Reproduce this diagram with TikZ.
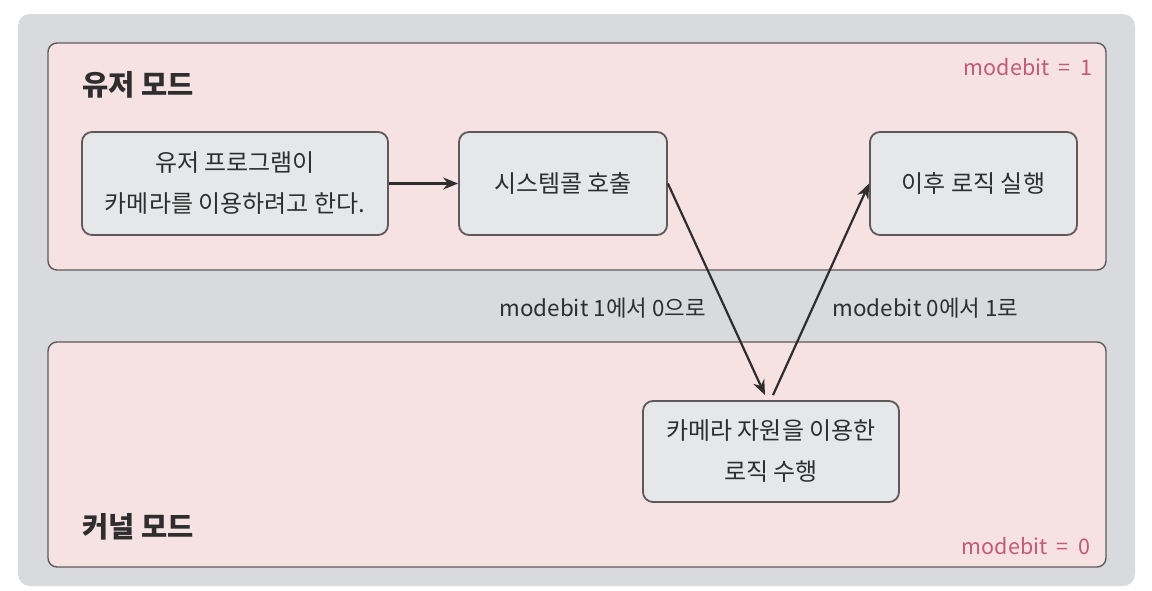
\documentclass[tikz,border=0pt]{standalone}
\usepackage{fontspec}
\setmainfont{Noto Sans CJK KR}
\usetikzlibrary{arrows.meta,calc}
\definecolor{bgGray}{HTML}{D9DADC}
\definecolor{zonePink}{HTML}{F6E1E3}
\definecolor{boxFill}{HTML}{E6E7E9}
\definecolor{lineDark}{HTML}{5E5A5B}
\definecolor{bitPink}{HTML}{C25A78}
\definecolor{textDark}{HTML}{2E2E2E}
\tikzset{
  zone/.style={draw=lineDark, line width=1.4pt, fill=zonePink, rounded corners=9pt},
  stepbox/.style={draw=lineDark, line width=1.8pt, fill=boxFill, rounded corners=10pt,
    align=center, text=textDark, font=\fontsize{24}{41}\selectfont, inner sep=0pt},
  zonetitle/.style={text=textDark, font=\bfseries\fontsize{28.5}{32}\selectfont, anchor=west},
  bitlabel/.style={text=bitPink, font=\fontsize{21.5}{24}\selectfont},
  midlabel/.style={text=textDark, font=\fontsize{22.4}{26}\selectfont},
  arr/.style={draw=textDark, line width=2.2pt, -{Stealth[length=15pt,width=12pt]}}
}
\begin{document}
\begin{tikzpicture}[x=1pt,y=-1pt]
\useasboundingbox (0,0) rectangle (1152,590);
\fill[white] (0,0) rectangle (1152,590);
\fill[bgGray, rounded corners=12pt] (18,14) rectangle (1135,586);
% zones
\path[zone] (48,43) rectangle (1106,270);
\path[zone] (48,342) rectangle (1106,567);
\node[zonetitle] (usertitle) at (79,85) {유저 모드};
\node[zonetitle] (kerneltitle) at (79,527) {커널 모드};
\node[bitlabel, anchor=east] (bit1) at (1096,67) {modebit\ \ =\ \ 1};
\node[bitlabel, anchor=east] (bit0) at (1094,546) {modebit\ \ =\ \ 0};
% boxes
\node[stepbox, minimum width=306pt, minimum height=103pt] (prog) at (235,183.5) {유저 프로그램이\\카메라를 이용하려고 한다.};
\node[stepbox, minimum width=208pt, minimum height=103pt] (call) at (563,183.5) {시스템콜 호출};
\node[stepbox, minimum width=207pt, minimum height=103pt] (after) at (973.5,183.5) {이후 로직 실행};
\node[stepbox, minimum width=256pt, minimum height=101pt] (cam) at (771,451.5) {카메라 자원을 이용한\\로직 수행};
% labels
\node[midlabel, anchor=west] (lab10) at (496,308) {modebit 1에서 0으로};
\node[midlabel, anchor=west] (lab01) at (829,308) {modebit 0에서 1로};
% arrows
\draw[arr] (prog.east) -- (call.west);
\draw[arr] (call.east) -- ($(cam.north)+(-6,-5)$);
\draw[arr] ($(cam.north)+(2,-5)$) -- (after.west);
\end{tikzpicture}
\end{document}
